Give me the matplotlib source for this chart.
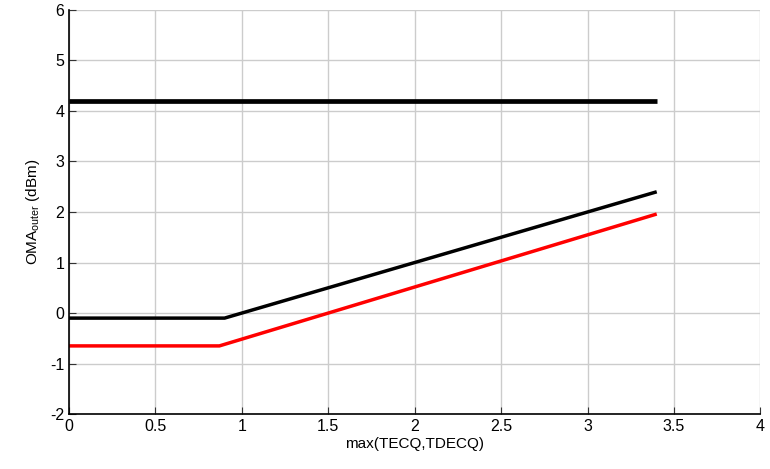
import matplotlib
matplotlib.use("Agg")
import matplotlib.pyplot as plt

plt.rcParams['font.family'] = ['Liberation Sans', 'DejaVu Sans']
plt.rcParams['mathtext.default'] = 'regular'
plt.rcParams['axes.unicode_minus'] = False

# data
top_x = [0, 3.4]
top_y = [4.2, 4.2]
black_x = [0, 0.9, 3.4]
black_y = [-0.1, -0.1, 2.4]
red_x = [0, 0.87, 3.4]
red_y = [-0.65, -0.65, 1.96]

fig = plt.figure(figsize=(7.7, 4.69), dpi=100)
ax = fig.add_axes([0.0896, 0.117, 0.898, 0.862])

ax.plot(top_x, top_y, color='black', lw=3.4, solid_capstyle='butt')
ax.plot(black_x, black_y, color='black', lw=2.5, solid_capstyle='butt')
ax.plot(red_x, red_y, color='red', lw=2.5, solid_capstyle='butt')

ax.set_xlim(0, 4)
ax.set_ylim(-2, 6)
ax.set_xticks([0, 0.5, 1, 1.5, 2, 2.5, 3, 3.5, 4])
ax.set_xticklabels(['0', '0.5', '1', '1.5', '2', '2.5', '3', '3.5', '4'])
ax.set_yticks(range(-2, 7))
ax.grid(True, color='#cccccc', lw=1)
ax.set_axisbelow(True)
ax.spines['top'].set_visible(False)
ax.spines['right'].set_visible(False)
ax.spines['left'].set_linewidth(1.2)
ax.spines['bottom'].set_linewidth(1.2)
ax.tick_params(direction='in', length=5, labelsize=11.5, color='#333333')

ax.set_xlabel('max(TECQ,TDECQ)', fontsize=11, labelpad=2)
ax.set_ylabel('OMA$_{outer}$ (dBm)', fontsize=11, labelpad=6)

fig.savefig('out.png', dpi=100)
